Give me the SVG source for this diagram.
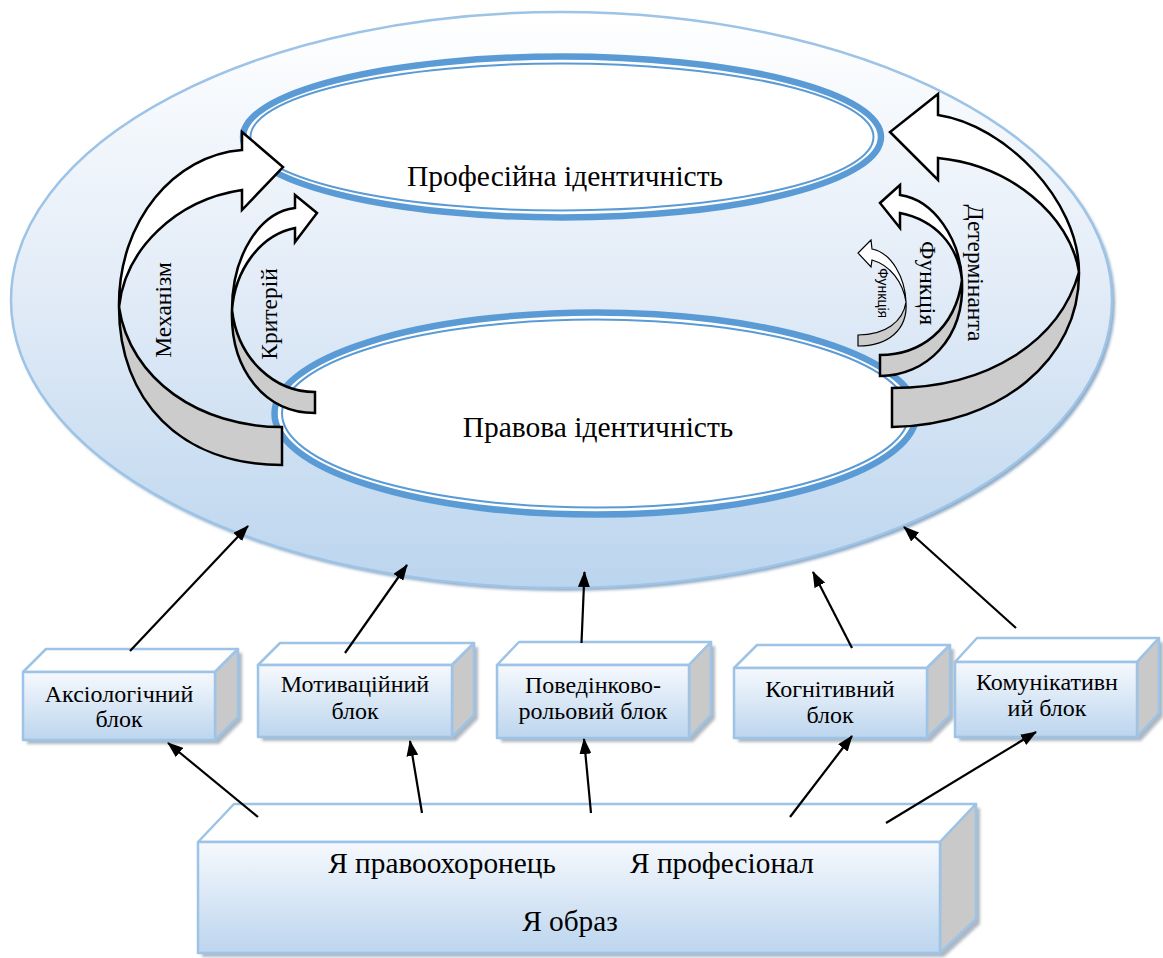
<svg xmlns="http://www.w3.org/2000/svg" width="1163" height="958" viewBox="0 0 1163 958">
<defs>
  <linearGradient id="bgGrad" x1="0" y1="0" x2="0" y2="1">
    <stop offset="0" stop-color="#ffffff"/>
    <stop offset="0.5" stop-color="#e1ebf7"/>
    <stop offset="1" stop-color="#bbd5ee"/>
  </linearGradient>
  <linearGradient id="boxGrad" x1="0" y1="0" x2="0" y2="1">
    <stop offset="0" stop-color="#f6f9fd"/>
    <stop offset="1" stop-color="#bcd5ee"/>
  </linearGradient>
  <filter id="blur" x="-5%" y="-5%" width="110%" height="110%">
    <feGaussianBlur stdDeviation="1.5"/>
  </filter>
  <marker id="arr" viewBox="0 0 16 12" refX="15" refY="6" markerWidth="16" markerHeight="12" markerUnits="userSpaceOnUse" orient="auto">
    <path d="M0,0 L16,6 L0,12 Z" fill="#000"/>
  </marker>
  <style>
    .t { font-family: "Liberation Serif", "Times New Roman", serif; fill: #000; text-anchor: middle; }
    .big { font-size: 29.5px; }
    .bx { font-size: 24px; }
    .bt { font-size: 29.3px; }
    .rot { font-size: 23.5px; }
    .sm { font-family: "Liberation Sans", Arial, sans-serif; font-size: 14px; fill: #000; text-anchor: middle; }
    .face { stroke: #9dc3e6; stroke-width: 2.5; stroke-linejoin: round; }
    .front { fill: url(#boxGrad); }
    .top { fill: #ffffff; }
    .side { fill: #c9c9c9; }
    .shadow { fill: #9aa5b1; opacity: 0.8; filter: url(#blur); }
    .thick { fill: none; stroke: #5b9bd5; stroke-width: 6.5; }
    .thin { fill: none; stroke: #5b9bd5; stroke-width: 2; }
    .cw { fill: #ffffff; stroke: #000; stroke-width: 2.5; stroke-linejoin: miter; }
    .cg { fill: #cccccc; stroke: #000; stroke-width: 2.5; stroke-linejoin: miter; }
    .cws { fill: #ffffff; stroke: #000; stroke-width: 1.2; }
    .cgs { fill: #cccccc; stroke: #000; stroke-width: 1.2; }
    .conn { stroke: #000; stroke-width: 2.2; fill: none; marker-end: url(#arr); }
  </style>
</defs>

<rect width="1163" height="958" fill="#ffffff"/>

<g id="outer-ellipse">
  <ellipse cx="564" cy="303" rx="551" ry="288" fill="#8ea8c3" filter="url(#blur)"/>
  <ellipse cx="561.5" cy="300" rx="550.5" ry="288" fill="url(#bgGrad)" stroke="#9dc3e6" stroke-width="2.5"/>
</g>

<g id="professional-identity">
  <ellipse cx="562" cy="137" rx="319" ry="80.5" fill="#ffffff"/>
  <ellipse cx="562" cy="137" rx="319" ry="80.5" class="thick"/>
  <ellipse cx="562" cy="137" rx="311.5" ry="73.5" class="thin"/>
  <text class="t big" x="565" y="186">Професійна ідентичність</text>
</g>

<g id="legal-identity">
  <ellipse cx="595.5" cy="413.5" rx="321" ry="101" fill="#ffffff"/>
  <ellipse cx="595.5" cy="413.5" rx="321" ry="101" class="thick"/>
  <ellipse cx="595.5" cy="413.5" rx="313.5" ry="94" class="thin"/>
  <text class="t big" x="598" y="437">Правова ідентичність</text>
</g>

<g id="arrow-mechanism">
  <path class="cg" d="M119,307 C130,380 200,427 282,427 L282,465 C180,465 119,400 119,307 Z"/>
  <path class="cw" d="M242,132 L283,167 L242,210 L242,190 C175,200 125,250 119,307 C118,220 175,155 242,150 Z"/>
  <text class="t rot" transform="translate(171,310) rotate(-90)">Механізм</text>
</g>

<g id="arrow-criterion">
  <path class="cg" d="M232,310 C238,360 275,392 315,392 L315,413 C265,413 230,370 232,310 Z"/>
  <path class="cw" d="M295,195 L317,213 L295,242 L295,228 C260,235 235,270 232,310 C232,255 260,212 295,208 Z"/>
  <text class="t rot" transform="translate(277,314) rotate(-90)">Критерій</text>
</g>

<g id="arrow-determinant">
  <path class="cg" d="M1079,272 C1060,340 990,388 892,388 L892,427 C1000,425 1080,360 1079,272 Z"/>
  <path class="cw" d="M938,94 L890,132 L938,180 L938,158 C1010,165 1070,215 1079,272 C1079,200 1005,125 938,115 Z"/>
  <text class="t rot" transform="translate(968,273) rotate(90)">Детермінанта</text>
</g>

<g id="arrow-function">
  <path class="cg" d="M962,280 C955,330 920,355 880,355 L880,376 C925,376 965,340 962,280 Z"/>
  <path class="cw" d="M900,185 L880,203 L900,228 L900,213 C935,220 958,245 962,280 C960,240 935,200 900,195 Z"/>
  <text class="t rot" transform="translate(920,283) rotate(90)">Функція</text>
</g>

<g id="arrow-function-small">
  <path class="cgs" d="M906,302 C903,322 885,335 858,335 L858,346 C888,346 908,330 906,302 Z"/>
  <path class="cws" d="M871,240 L858,253 L871,267 L872,260 C890,265 903,282 906,302 C905,278 892,253 872,249 Z"/>
  <text class="sm" transform="translate(878,293) rotate(90)">Функція</text>
</g>

<g id="block-axiological">
  <path class="shadow" d="M27,676 L50,653 L242,653 L242,721 L219,744 L27,744 Z"/>
  <path class="face top" d="M23,672 L46,649 L238,649 L215,672 Z"/>
  <path class="face side" d="M215,672 L238,649 L238,717 L215,740 Z"/>
  <rect class="face front" x="23" y="672" width="192" height="68"/>
  <text class="t bx" x="119" y="702">Аксіологічний</text>
  <text class="t bx" x="119" y="727">блок</text>
</g>

<g id="block-motivational">
  <path class="shadow" d="M262,669 L284,647 L478,647 L478,719 L456,741 L262,741 Z"/>
  <path class="face top" d="M258,665 L280,643 L474,643 L452,665 Z"/>
  <path class="face side" d="M452,665 L474,643 L474,715 L452,737 Z"/>
  <rect class="face front" x="258" y="665" width="194" height="72"/>
  <text class="t bx" x="355" y="692">Мотиваційний</text>
  <text class="t bx" x="355" y="719">блок</text>
</g>

<g id="block-behavioral">
  <path class="shadow" d="M501,669 L523,646 L715,646 L715,719 L693,742 L501,742 Z"/>
  <path class="face top" d="M497,665 L519,642 L711,642 L689,665 Z"/>
  <path class="face side" d="M689,665 L711,642 L711,715 L689,738 Z"/>
  <rect class="face front" x="497" y="665" width="192" height="73"/>
  <text class="t bx" x="593" y="693">Поведінково-</text>
  <text class="t bx" x="593" y="719">рольовий блок</text>
</g>

<g id="block-cognitive">
  <path class="shadow" d="M738,672 L761,649 L954,649 L954,719 L931,742 L738,742 Z"/>
  <path class="face top" d="M734,668 L757,645 L950,645 L927,668 Z"/>
  <path class="face side" d="M927,668 L950,645 L950,715 L927,738 Z"/>
  <rect class="face front" x="734" y="668" width="193" height="70"/>
  <text class="t bx" x="830" y="697">Когнітивний</text>
  <text class="t bx" x="830" y="723">блок</text>
</g>

<g id="block-communicative">
  <path class="shadow" d="M959,666 L981,642 L1163,642 L1163,717 L1141,741 L959,741 Z"/>
  <path class="face top" d="M955,662 L977,638 L1159,638 L1137,662 Z"/>
  <path class="face side" d="M1137,662 L1159,638 L1159,713 L1137,737 Z"/>
  <rect class="face front" x="955" y="662" width="182" height="75"/>
  <text class="t bx" x="1047" y="690">Комунікативн</text>
  <text class="t bx" x="1047" y="716">ий блок</text>
</g>

<g id="self-image">
  <path class="shadow" d="M202,846 L238,808 L980,808 L980,924 L944,957 L202,957 Z"/>
  <path class="face top" d="M198,842 L234,804 L976,804 L940,842 Z"/>
  <path class="face side" d="M940,842 L976,804 L976,919 L940,953 Z"/>
  <rect class="face front" x="198" y="842" width="742" height="111"/>
  <text class="t bt" x="442" y="873">Я правоохоронець</text>
  <text class="t bt" x="722" y="873">Я професіонал</text>
  <text class="t bt" x="570" y="931">Я образ</text>
</g>

<g id="connectors">
  <line class="conn" x1="130" y1="651" x2="248" y2="526"/>
  <line class="conn" x1="345" y1="653" x2="407" y2="565"/>
  <line class="conn" x1="581.5" y1="643" x2="584.5" y2="572"/>
  <line class="conn" x1="852" y1="648" x2="813" y2="572"/>
  <line class="conn" x1="1016" y1="628" x2="904" y2="527"/>
  <line class="conn" x1="258" y1="817" x2="168" y2="743"/>
  <line class="conn" x1="422" y1="813" x2="410" y2="741"/>
  <line class="conn" x1="591" y1="813" x2="584" y2="739"/>
  <line class="conn" x1="790" y1="817" x2="852" y2="736"/>
  <line class="conn" x1="886" y1="823" x2="1036" y2="732"/>
</g>
</svg>
